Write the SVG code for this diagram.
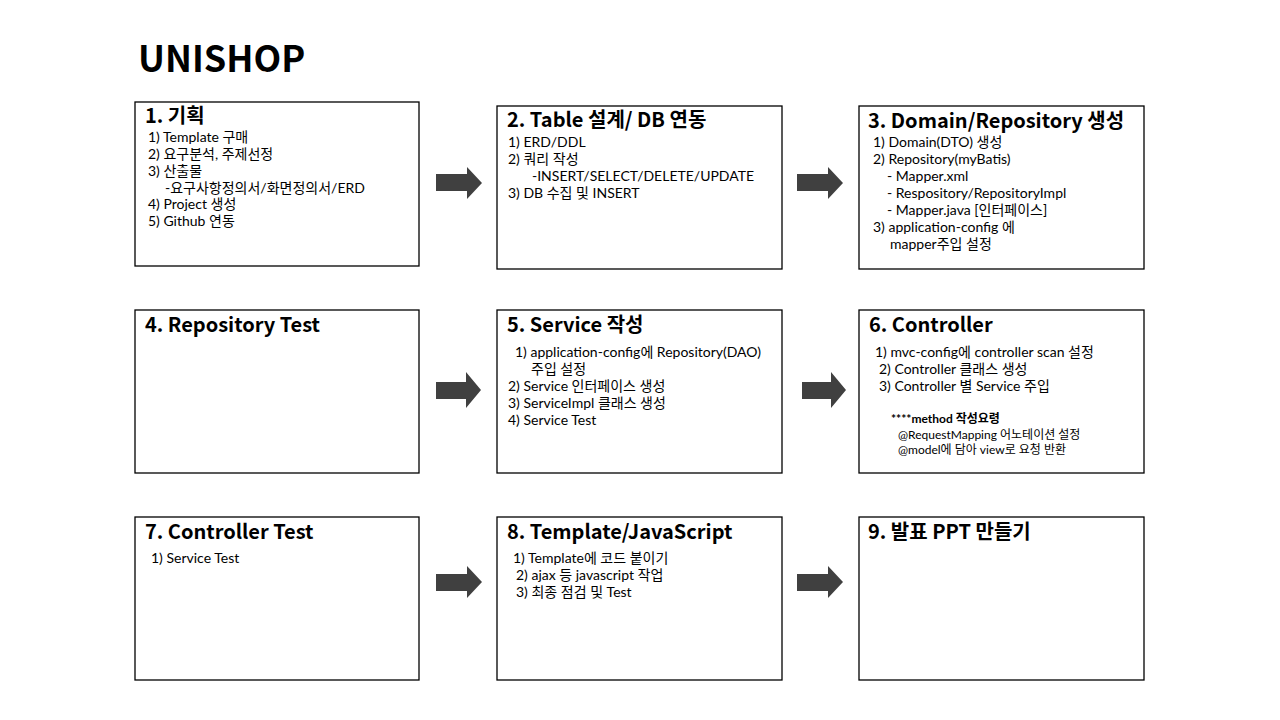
<svg xmlns="http://www.w3.org/2000/svg" width="1280" height="720" viewBox="0 0 1280 720">
<style>
text{font-family:"Noto Sans CJK KR","Noto Sans",sans-serif;fill:#000}
.t{font-family:Lato,"Noto Sans CJK KR",sans-serif;font-size:14px}
.title{font-size:36px;font-weight:bold}
.h{font-size:20px;font-weight:bold}
.s{font-family:Lato,"Noto Sans CJK KR",sans-serif;font-size:12px}
.sb{font-family:Lato,"Noto Sans CJK KR",sans-serif;font-size:12px;font-weight:bold}
.box{fill:#fff;stroke:#000;stroke-width:1.3}
.arr{fill:#404040}
</style>
<rect width="1280" height="720" fill="#fff"/>
<text class="title" x="138" y="72">UNISHOP</text>

<g id="node1">
<rect class="box" x="135" y="102" width="284" height="164"/>
<text class="h" x="145" y="123">1. 기획</text>
<text class="t" x="148" y="142">1) Template 구매</text>
<text class="t" x="148" y="159">2) 요구분석, 주제선정</text>
<text class="t" x="148" y="176">3) 산출물</text>
<text class="t" x="165" y="193">-요구사항정의서/화면정의서/ERD</text>
<text class="t" x="148" y="209">4) Project 생성</text>
<text class="t" x="148" y="226">5) Github 연동</text>
</g>

<g id="node2">
<rect class="box" x="497" y="106" width="285" height="163"/>
<text class="h" x="507" y="127">2. Table 설계/ DB 연동</text>
<text class="t" x="508" y="147">1) ERD/DDL</text>
<text class="t" x="508" y="164">2) 쿼리 작성</text>
<text class="t" x="532" y="181">-INSERT/SELECT/DELETE/UPDATE</text>
<text class="t" x="508" y="198">3) DB 수집 및 INSERT</text>
</g>

<g id="node3">
<rect class="box" x="859" y="106" width="285" height="163"/>
<text class="h" x="868" y="128">3. Domain/Repository 생성</text>
<text class="t" x="873" y="147">1) Domain(DTO) 생성</text>
<text class="t" x="873" y="164">2) Repository(myBatis)</text>
<text class="t" x="887" y="181">- Mapper.xml</text>
<text class="t" x="887" y="198">- Respository/RepositoryImpl</text>
<text class="t" x="887" y="215">- Mapper.java [인터페이스]</text>
<text class="t" x="873" y="232">3) application-config 에</text>
<text class="t" x="890" y="249">mapper주입 설정</text>
</g>

<g id="node4">
<rect class="box" x="135" y="310" width="284" height="163"/>
<text class="h" x="145" y="332">4. Repository Test</text>
</g>

<g id="node5">
<rect class="box" x="497" y="310" width="285" height="163"/>
<text class="h" x="507" y="332">5. Service 작성</text>
<text class="t" x="515" y="357">1) application-config에 Repository(DAO)</text>
<text class="t" x="531" y="374">주입 설정</text>
<text class="t" x="508" y="391">2) Service 인터페이스 생성</text>
<text class="t" x="508" y="408">3) ServiceImpl 클래스 생성</text>
<text class="t" x="508" y="425">4) Service Test</text>
</g>

<g id="node6">
<rect class="box" x="859" y="310" width="285" height="163"/>
<text class="h" x="869" y="332">6. Controller</text>
<text class="t" x="875" y="357">1) mvc-config에 controller scan 설정</text>
<text class="t" x="879" y="374">2) Controller 클래스 생성</text>
<text class="t" x="879" y="391">3) Controller 별 Service 주입</text>
<text class="sb" x="891" y="423">****method 작성요령</text>
<text class="s" x="898" y="439">@RequestMapping 어노테이션 설정</text>
<text class="s" x="898" y="454">@model에 담아 view로 요청 반환</text>
</g>

<g id="node7">
<rect class="box" x="135" y="517" width="284" height="163"/>
<text class="h" x="145" y="539">7. Controller Test</text>
<text class="t" x="151" y="563">1) Service Test</text>
</g>

<g id="node8">
<rect class="box" x="497" y="517" width="285" height="163"/>
<text class="h" x="507" y="539">8. Template/JavaScript</text>
<text class="t" x="513" y="563">1) Template에 코드 붙이기</text>
<text class="t" x="516" y="580">2) ajax 등 javascript 작업</text>
<text class="t" x="516" y="597">3) 최종 점검 및 Test</text>
</g>

<g id="node9">
<rect class="box" x="859" y="517" width="285" height="163"/>
<text class="h" x="868" y="539">9. 발표 PPT 만들기</text>
</g>

<g id="connectors">
<polygon class="arr" points="436,174 467,174 467,167 482,183 467,199 467,191 436,191"/>
<polygon class="arr" points="797,174 828,174 828,167 843,183 828,199 828,191 797,191"/>
<polygon class="arr" points="436,382 466,382 466,372 481,390 466,408 466,399 436,399"/>
<polygon class="arr" points="802,382 831,382 831,372 846,390 831,408 831,399 802,399"/>
<polygon class="arr" points="436,574 467,574 467,566 482,582 467,598 467,591 436,591"/>
<polygon class="arr" points="797,574 828,574 828,566 843,582 828,598 828,591 797,591"/>
</g>
</svg>
